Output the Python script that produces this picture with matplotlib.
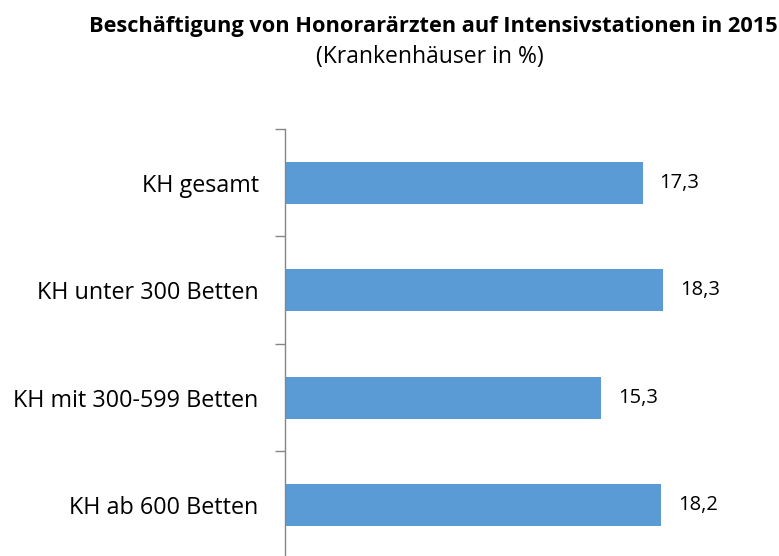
import matplotlib.pyplot as plt

# Anteil der Krankenhäuser mit Honorarärzten auf Intensivstationen (2015)
categories = ["KH gesamt", "KH unter 300 Betten", "KH mit 300-599 Betten", "KH ab 600 Betten"]
values = [17.3, 18.3, 15.3, 18.2]

plt.rcParams['font.family'] = ['Open Sans', 'DejaVu Sans']

fig = plt.figure(figsize=(7.79, 5.56), dpi=100)
ax = fig.add_axes([0.3659, -0.0054, 0.5307, 0.7734])

pos = list(range(len(categories)))
bars = ax.barh(pos, values, height=0.39, color='#5B9BD5', zorder=2)

ax.set_ylim(len(categories) - 0.5, -0.5)
ax.set_xlim(0, 20)

for b, v in zip(bars, values):
    ax.text(b.get_width() + 0.8, b.get_y() + b.get_height() / 2,
            f"{v:.1f}".replace(".", ","), va='center', ha='left', fontsize=14.5)

ax.set_yticks(pos)
ax.set_yticklabels(categories, fontsize=16.8)
ax.set_yticks([i - 0.5 for i in range(len(categories) + 1)], minor=True)
ax.tick_params(axis='y', which='major', length=0, pad=19)
ax.tick_params(axis='y', which='minor', length=7, width=1, color='#868686')
ax.set_xticks([])

for side in ['top', 'right', 'bottom']:
    ax.spines[side].set_visible(False)
ax.spines['left'].set_color('#868686')
ax.spines['left'].set_linewidth(1)

fig.text(0.556, 0.953, "Beschäftigung von Honorarärzten auf Intensivstationen in 2015",
         ha='center', va='center', fontsize=15.7, fontweight='bold')
fig.text(0.552, 0.897, "(Krankenhäuser in %)", ha='center', va='center', fontsize=16.5)

fig.savefig("out.png", dpi=100)
